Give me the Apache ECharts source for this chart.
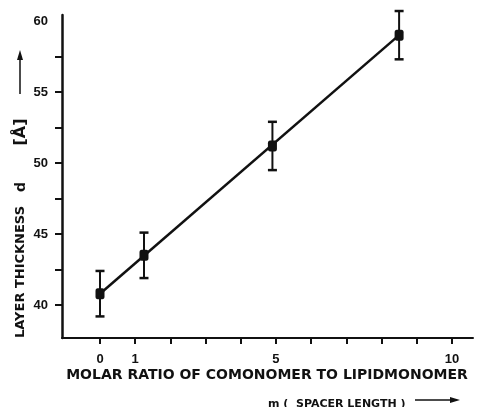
<!DOCTYPE html>
<html>
<head>
<meta charset="utf-8">
<script src="https://cdn.jsdelivr.net/npm/echarts@6/dist/echarts.min.js"></script>
<style>html,body{margin:0;padding:0;background:#fff}#c{width:478px;height:407px}</style>
</head>
<body>
<div id="c"></div>
<script>
// Data
const spacerLength = [0, 1.25, 4.9, 8.5];
const layerThickness = [40.8, 43.5, 51.2, 59.0];
const errorHalf = [1.6, 1.6, 1.7, 1.7];
const fitLineX = [0, 8.5];
const fitLineY = [40.8, 59.0];
const xTickValues = [0, 1, 2, 3, 4, 5, 6, 7, 8, 9, 10];
const xTickLabels = [0, 1, 5, 10];
const yTickValues = [40, 42.5, 45, 47.5, 50, 52.5, 55, 57.5];
const yTickLabels = [40, 45, 50, 55, 60];

const INK = '#111';
const chart = echarts.init(document.getElementById('c'), null, {renderer: 'canvas'});

const points = spacerLength.map((x, i) => [x, layerThickness[i]]);
const errData = spacerLength.map((x, i) => [x, layerThickness[i] - errorHalf[i], layerThickness[i] + errorHalf[i]]);
const fitData = fitLineX.map((x, i) => [x, fitLineY[i]]);

chart.setOption({
  backgroundColor: '#fff',
  animation: false,
  grid: {left: 62, right: 5, top: 15, bottom: 69, containLabel: false},
  xAxis: {
    type: 'value', min: -1.08, max: 10.6,
    splitLine: {show: false},
    axisLine: {show: true, onZero: false, lineStyle: {color: INK, width: 2}},
    axisTick: {show: true, inside: false, length: 6, lineStyle: {color: INK, width: 2}, customValues: xTickValues},
    axisLabel: {show: true, margin: 15, color: INK, fontFamily: 'Liberation Sans', fontWeight: 'bold', fontSize: 13, customValues: xTickLabels}
  },
  yAxis: {
    type: 'value', min: 37.68, max: 60.42,
    splitLine: {show: false},
    axisLine: {show: true, onZero: false, lineStyle: {color: INK, width: 2.5}},
    axisTick: {show: true, inside: false, length: 7, lineStyle: {color: INK, width: 2}, customValues: yTickValues},
    axisLabel: {show: true, margin: 14, color: INK, fontFamily: 'Liberation Sans', fontWeight: 'bold', fontSize: 13, customValues: yTickLabels}
  },
  graphic: [
    {type: 'text', x: 267, y: 375, style: {text: 'MOLAR RATIO OF COMONOMER TO LIPIDMONOMER', fill: INK, font: 'bold 14px "DejaVu Sans"', align: 'center', verticalAlign: 'middle'}},
    {type: 'text', x: 268, y: 404, style: {text: 'm (  SPACER LENGTH )', fill: INK, font: 'bold 11px "DejaVu Sans"', align: 'left', verticalAlign: 'middle'}},
    {type: 'line', shape: {x1: 415, y1: 400, x2: 452, y2: 400}, style: {stroke: INK, lineWidth: 1.5}},
    {type: 'polygon', shape: {points: [[460, 400], [450, 397], [450, 403]]}, style: {fill: INK}},
    {type: 'text', x: 21, y: 272, rotation: Math.PI / 2, style: {text: 'LAYER THICKNESS', fill: INK, font: 'bold 13px "DejaVu Sans"', align: 'center', verticalAlign: 'middle'}},
    {type: 'text', x: 21, y: 187, rotation: Math.PI / 2, style: {text: 'd', fill: INK, font: 'bold 14px "DejaVu Sans"', align: 'center', verticalAlign: 'middle'}},
    {type: 'text', x: 21, y: 132, rotation: Math.PI / 2, style: {text: '[Å]', fill: INK, font: 'bold 16px "DejaVu Sans"', align: 'center', verticalAlign: 'middle'}},
    {type: 'line', shape: {x1: 20, y1: 94, x2: 20, y2: 58}, style: {stroke: INK, lineWidth: 1.5}},
    {type: 'polygon', shape: {points: [[20, 50], [17, 60], [23, 60]]}, style: {fill: INK}}
  ],
  series: [
    {
      type: 'line', data: fitData, symbol: 'none', silent: true,
      lineStyle: {color: INK, width: 2.5}, z: 2
    },
    {
      type: 'custom', data: errData, z: 3, silent: true,
      renderItem: function (params, api) {
        const x = api.value(0);
        const lo = api.coord([x, api.value(1)]);
        const hi = api.coord([x, api.value(2)]);
        const hw = 4.5;
        return {type: 'group', children: [
          {type: 'line', shape: {x1: lo[0], y1: lo[1], x2: hi[0], y2: hi[1]}, style: {stroke: INK, lineWidth: 2}},
          {type: 'line', shape: {x1: lo[0] - hw, y1: lo[1], x2: lo[0] + hw, y2: lo[1]}, style: {stroke: INK, lineWidth: 2.5}},
          {type: 'line', shape: {x1: hi[0] - hw, y1: hi[1], x2: hi[0] + hw, y2: hi[1]}, style: {stroke: INK, lineWidth: 2.5}}
        ]};
      }
    },
    {
      type: 'scatter', data: points, symbol: 'roundRect', symbolSize: [9, 11], z: 4,
      itemStyle: {color: INK, opacity: 1}
    }
  ]
});
</script>
</body>
</html>
